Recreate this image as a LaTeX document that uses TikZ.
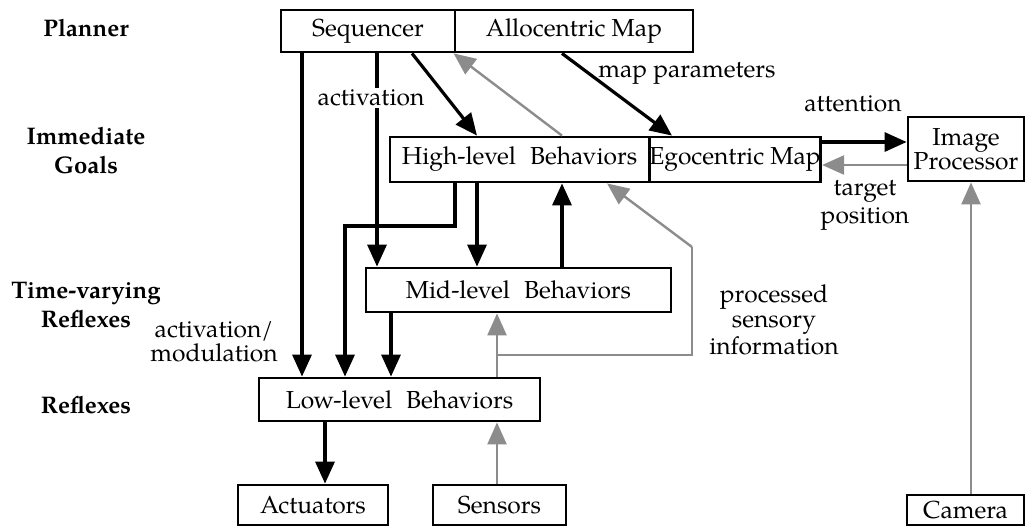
\documentclass[tikz,border=0pt]{standalone}
\usepackage{fontspec}
\setmainfont{TeX Gyre Pagella}
\usetikzlibrary{arrows.meta}
\definecolor{arrowgray}{RGB}{140,140,140}
\newcommand\dfont{\fontsize{12.3}{13}\selectfont}
\newcommand\lfont{\fontsize{12.3}{14}\selectfont}
\newcommand\bfont{\fontsize{12}{14.5}\selectfont\bfseries}
\begin{document}
\begin{tikzpicture}[x=0.5pt,y=-0.5pt,
  box/.style={draw,line width=1.4pt,inner sep=0pt,font=\dfont,fill=white},
  lbl/.style={font=\lfont,align=center,inner sep=1pt},
  lvl/.style={font=\bfont,align=center,inner sep=0pt},
  blk/.style={line width=1.6pt,-{Triangle[length=11pt,width=9.5pt]}},
  gry/.style={line width=1.2pt,draw=arrowgray,-{Triangle[length=11pt,width=9.5pt]},color=arrowgray},
  gryline/.style={line width=1.2pt,draw=arrowgray}]
\useasboundingbox (0,0) rectangle (1026,527);
% boxes
\node[box,minimum width=87pt,minimum height=21pt] (seq) at (368,31) {Sequencer};
\node[box,minimum width=119pt,minimum height=21pt] (allo) at (574,31) {Allocentric Map};
\node[box,minimum width=129.5pt,minimum height=22.5pt] (high) at (519.5,159.5) {High-level\hspace{7pt}Behaviors};
\node[box,minimum width=85pt,minimum height=22.5pt] (ego) at (735,159.5) {Egocentric Map};
\node[box,minimum width=58pt,minimum height=32pt,align=center] (imgp) at (966,149) {Image\\[-1pt]Processor};
\node[box,minimum width=152.5pt,minimum height=22pt] (mid) at (518.5,290) {Mid-level\hspace{7pt}Behaviors};
\node[box,minimum width=140.5pt,minimum height=21.5pt] (low) at (399.5,399.5) {Low-level\hspace{7pt}Behaviors};
\node[box,minimum width=75pt,minimum height=20pt] (act) at (313,505) {Actuators};
\node[box,minimum width=66.5pt,minimum height=20pt] (sens) at (499.5,505) {Sensors};
\node[box,minimum width=58.5pt,minimum height=15pt] (cam) at (965.5,510) {Camera};
% level labels
\node[lvl] (lp) at (86,28) {Planner};
\node[lvl] (li) at (86,151) {Immediate\\Goals};
\node[lvl] (lt) at (86,305) {Time-varying\\Reflexes};
\node[lvl] (lr) at (86,405) {Reflexes};
% column coordinates
\coordinate (c302) at (302,0);
\coordinate (c377) at (377,0);
\coordinate (c412) at (412,0);
\coordinate (c477) at (477,0);
\coordinate (c562) at (562,0);
\coordinate (c672) at (672,0);
\coordinate (c971) at (971,0);
\coordinate (c455) at (455,0);
\coordinate (c391) at (391,0);
\coordinate (c325) at (325,0);
\coordinate (c497) at (497,0);
\coordinate (c607) at (607,0);
\coordinate (r142) at (0,142);
\coordinate (r165) at (0,165);
\coordinate (k1) at (345,226);
\coordinate (k2) at (497,355);
\coordinate (k3) at (692,355);
\coordinate (k4) at (692,247);
% connectors
\draw[blk] (seq.south -| c302) -- (low.north -| c302);
\draw[blk] (seq.south -| c377) -- (mid.north -| c377);
\draw[blk] (seq.south -| c412) -- (high.north -| c477);
\draw[gry] (high.north -| c562) -- (allo.south west);
\draw[blk] (allo.south -| c562) -- (ego.north -| c672);
\draw[blk] (ego.east |- r142) -- (imgp.west |- r142);
\draw[gry] (imgp.west |- r165) -- (ego.east |- r165);
\draw[gry] (cam.north -| c971) -- (imgp.south -| c971);
\draw[blk] (high.south -| c455) |- (k1) -- (low.north -| k1);
\draw[blk] (high.south -| c477) -- (mid.north -| c477);
\draw[blk] (mid.north -| c562) -- (high.south -| c562);
\draw[blk] (mid.south -| c391) -- (low.north -| c391);
\draw[blk] (low.south -| c325) -- (act.north -| c325);
\draw[gry] (sens.north -| c497) -- (low.south -| c497);
\draw[gry] (low.north -| c497) -- (mid.south -| c497);
\draw[gryline] (k2) -- (k3) -- (k4);
\draw[gry] (k4) -- (high.south -| c607);
% connector labels
\node[lbl,fill=white] (tact) at (371,98) {activation};
\node[lbl] (tmap) at (687,73) {map parameters};
\node[lbl] (tatt) at (853,104) {attention};
\node[lbl] (ttar) at (865,205) {target\\position};
\node[lbl,font=\fontsize{12.3}{12.3}\selectfont] (tproc) at (774,320) {processed\\sensory\\information};
\node[lbl,font=\fontsize{12.3}{12}\selectfont] (tmod) at (214,342) {activation/\\modulation};
\end{tikzpicture}
\end{document}
